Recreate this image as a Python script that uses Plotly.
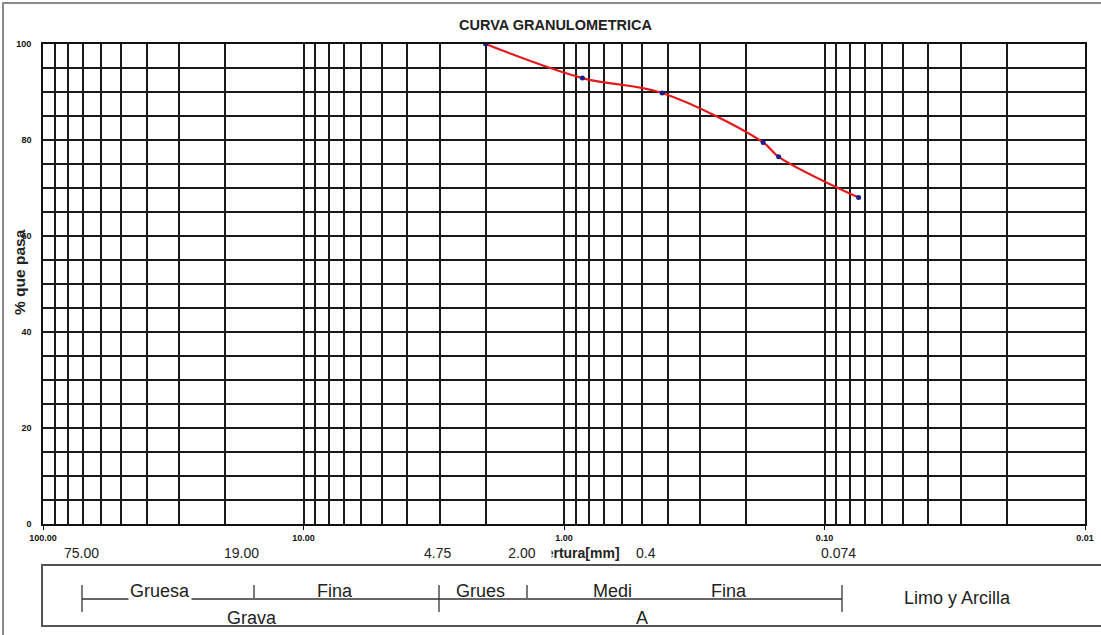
import plotly.graph_objects as go

# Granulometric curve: sieve aperture vs. percent passing
aperture_mm = [2.00, 0.85, 0.42, 0.172, 0.15, 0.074]
percent_passing = [100.0, 92.9, 89.8, 79.5, 76.5, 68.0]

decades = [100, 10, 1, 0.1, 0.01]
decade_labels = ["100.00", "10.00", "1.00", "0.10", "0.01"]
pct_ticks = [0, 20, 40, 60, 80, 100]

# Sieve sizes written under the axis
sieve_labels = ["75.00", "19.00", "4.75", "2.00", "0.4", "0.074"]

# Soil classification strip
class_upper = ["Gruesa", "Fina", "Grues", "Medi", "Fina"]
class_lower = ["Grava", "A"]
fines_label = "Limo y Arcilla"

FONT = "Liberation Sans, Arial, sans-serif"
W, H = 1101, 635
L, R, T, B = 43, 1085, 44, 524
GRID = "#1a1a1a"


def px(x):
    return (x - L) / (R - L)


def py(y):
    return (B - y) / (B - T)


minor_vals = [d * k for d in decades[1:] for k in range(2, 10)]

fig = go.Figure()
fig.add_trace(go.Scatter(
    x=aperture_mm, y=percent_passing,
    mode="lines+markers",
    line=dict(color="#e3191c", width=2.2, shape="spline", smoothing=1),
    marker=dict(color="#1c1c8c", size=5),
    showlegend=False,
))

fig.update_layout(
    width=W, height=H,
    margin=dict(l=L, r=W - R, t=T, b=H - B, autoexpand=False),
    paper_bgcolor="white", plot_bgcolor="white",
    font=dict(family=FONT, color="black"),
    xaxis=dict(
        type="log", range=[2, -2], automargin=False,
        tickvals=decades, ticktext=decade_labels,
        tickfont=dict(size=9, weight="bold", color="#111"),
        ticks="outside", ticklen=4, tickcolor="#111",
        showgrid=True, gridcolor=GRID, gridwidth=1.5,
        minor=dict(tickmode="array", tickvals=minor_vals, showgrid=True,
                   gridcolor=GRID, gridwidth=1.5, ticks=""),
        showline=True, linecolor="#111", linewidth=1.6, mirror=True,
        zeroline=False,
    ),
    yaxis=dict(
        range=[0, 100], automargin=False,
        tickvals=pct_ticks, ticktext=[str(v) for v in pct_ticks],
        tickfont=dict(size=9, weight="bold", color="#111"),
        ticks="", ticklabelstandoff=8,
        showgrid=True, gridcolor=GRID, gridwidth=1.5,
        minor=dict(dtick=5, showgrid=True, gridcolor=GRID, gridwidth=1.5),
        showline=True, linecolor="#111", linewidth=1.6, mirror=True,
        zeroline=False,
    ),
)

shapes = []
# outer frame of the sheet
shapes.append(dict(type="rect", xref="paper", yref="paper",
                   x0=px(3), x1=px(1115), y0=py(3), y1=py(650),
                   line=dict(color="#8a8a8a", width=2), layer="below"))
# classification box
shapes.append(dict(type="rect", xref="paper", yref="paper",
                   x0=px(42), x1=px(1115), y0=py(565), y1=py(626),
                   line=dict(color="#555", width=2)))
# baseline of the classification strip
shapes.append(dict(type="line", xref="paper", yref="paper",
                   x0=px(82), x1=px(842), y0=py(599), y1=py(599),
                   line=dict(color="#333", width=1.3)))
for xp in (82, 439, 842):
    shapes.append(dict(type="line", xref="paper", yref="paper",
                       x0=px(xp), x1=px(xp), y0=py(585), y1=py(612),
                       line=dict(color="#333", width=1.3)))
for xp in (254, 527):
    shapes.append(dict(type="line", xref="paper", yref="paper",
                       x0=px(xp), x1=px(xp), y0=py(585), y1=py(598),
                       line=dict(color="#333", width=1.3)))
fig.update_layout(shapes=shapes)

ann = []


def label(text, x, y, size, bold=False, **kw):
    ann.append(dict(text=f"<b>{text}</b>" if bold else text,
                    xref="paper", yref="paper", x=px(x), y=py(y),
                    xanchor="center", yanchor="middle", showarrow=False,
                    font=dict(family=FONT, size=size, color="#222"), **kw))


label("CURVA GRANULOMETRICA", 556, 25, 14.5, bold=True)
ann.append(dict(text="<b>% que pasa</b>", xref="paper", yref="paper",
                x=px(19), y=py(272), xanchor="center", yanchor="middle",
                textangle=-90, showarrow=False,
                font=dict(family=FONT, size=15.5, color="#222")))
label("Abertura[mm]", 573, 553, 14, bold=True)

sieve_x = [81, 241, 437, 522, 646, 838]
for txt, xp in zip(sieve_labels, sieve_x):
    if txt == "2.00":
        # its white box sits over the start of the axis title
        label(txt, xp, 553, 14, bgcolor="white", width=56)
    else:
        label(txt, xp, 553, 14)

upper_x = [160, 335, 480, 612, 729]
for txt, xp in zip(class_upper, upper_x):
    if txt == "Gruesa":
        label(txt, xp, 591, 18, bgcolor="white")
    else:
        label(txt, xp, 591, 18)
for txt, xp in zip(class_lower, [252, 642]):
    label(txt, xp, 618, 18)
label(fines_label, 957, 598, 18)

fig.update_layout(annotations=ann)

fig.write_html("out.html")
